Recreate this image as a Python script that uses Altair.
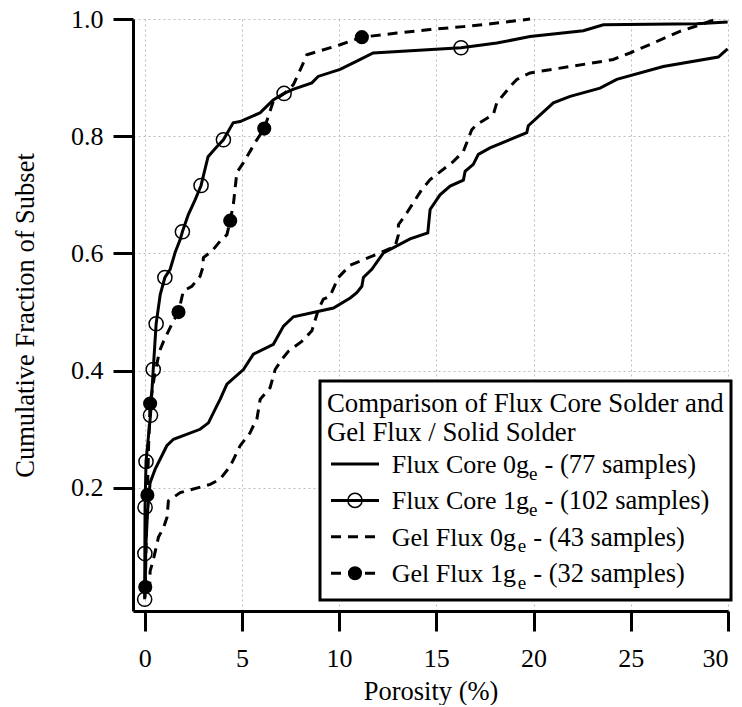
import altair as alt
import pandas as pd

# ---------------- data ----------------
# Flux Core 0g_e (77 samples) - solid line
fc0_x = [0.02, 0.06, 0.15, 0.28, 0.54, 1.14, 1.48, 2.85, 3.28, 3.71, 3.88, 4.23, 5.08, 5.59, 6.62, 7.14,
         7.65, 9.71, 10.57, 10.91, 11.17, 11.25, 11.68, 12.28, 13.65, 14.56, 14.68, 15.19, 15.71, 16.39,
         16.48, 16.90, 17.16, 17.76, 19.65, 19.73, 21.02, 21.88, 23.42, 24.28, 26.67, 29.50, 29.98]
fc0_y = [0.013, 0.10, 0.16, 0.209, 0.232, 0.272, 0.283, 0.300, 0.311, 0.340, 0.351, 0.377, 0.402, 0.428,
         0.445, 0.476, 0.492, 0.507, 0.524, 0.533, 0.544, 0.559, 0.573, 0.601, 0.625, 0.635, 0.675, 0.700,
         0.715, 0.725, 0.740, 0.752, 0.769, 0.780, 0.806, 0.818, 0.857, 0.868, 0.882, 0.897, 0.919, 0.935,
         0.949]

# Flux Core 1g_e (102 samples) - solid line with open circles
fc1_x = [0.00, 0.01, 0.02, 0.07, 0.30, 0.44, 0.59, 0.80, 1.04, 1.31, 1.57, 1.83, 1.94, 2.24, 2.60, 2.90,
         3.01, 3.26, 3.71, 4.05, 4.55, 4.91, 5.94, 6.09, 6.61, 7.17, 7.63, 8.60, 8.92, 10.05, 10.91, 11.75,
         16.27, 18.11, 19.82, 22.56, 23.59, 28.39, 29.98]
fc1_y = [0.010, 0.088, 0.167, 0.245, 0.324, 0.402, 0.480, 0.530, 0.559, 0.573, 0.602, 0.624, 0.637,
         0.666, 0.692, 0.716, 0.731, 0.765, 0.782, 0.794, 0.823, 0.825, 0.840, 0.845, 0.862, 0.873, 0.880,
         0.891, 0.902, 0.914, 0.928, 0.942, 0.951, 0.959, 0.970, 0.980, 0.990, 0.992, 0.995]
fc1_mx = [0.00, 0.01, 0.02, 0.07, 0.30, 0.44, 0.59, 1.04, 1.94, 2.90, 4.05, 7.17, 16.27]
fc1_my = [0.010, 0.088, 0.167, 0.245, 0.324, 0.402, 0.480, 0.559, 0.637, 0.716, 0.794, 0.873, 0.951]

# Gel Flux 0g_e (43 samples) - dashed line
gf0_x = [0.25, 0.28, 0.45, 0.71, 0.97, 1.15, 1.22, 1.83, 3.37, 3.88, 4.40, 4.91, 5.42, 5.59, 5.77, 5.94,
         6.45, 6.71, 7.05, 7.39, 8.08, 8.60, 8.94, 9.19, 9.53, 9.96, 10.57, 12.11, 12.88, 13.05, 13.05,
         13.48, 14.25, 14.68, 15.88, 16.39, 16.82, 17.08, 17.93, 18.11, 18.88, 19.14, 19.82, 23.59, 24.10,
         24.96, 26.16, 27.53, 28.56, 28.90, 29.42]
gf0_y = [0.023, 0.058, 0.078, 0.116, 0.132, 0.150, 0.178, 0.192, 0.206, 0.215, 0.237, 0.272, 0.294,
         0.306, 0.317, 0.351, 0.371, 0.402, 0.419, 0.433, 0.450, 0.468, 0.505, 0.522, 0.527, 0.559, 0.580,
         0.601, 0.612, 0.632, 0.649, 0.669, 0.709, 0.726, 0.757, 0.774, 0.811, 0.820, 0.837, 0.857, 0.888,
         0.897, 0.908, 0.928, 0.931, 0.942, 0.959, 0.979, 0.990, 0.994, 1.0]

# Gel Flux 1g_e (32 samples) - dashed line with filled circles
gf1_x = [0.03, 0.08, 0.14, 0.20, 0.28, 0.50, 0.76, 0.97, 1.48, 1.74, 1.99, 2.43, 2.85, 2.99, 3.02, 3.46,
         3.88, 4.23, 4.40, 4.57, 4.74, 5.08, 5.77, 6.15, 6.62, 7.22, 7.65, 8.08, 8.34, 8.94, 10.05, 11.17,
         12.97, 14.68, 16.39, 18.11, 19.82]
gf1_y = [0.031, 0.11, 0.188, 0.27, 0.344, 0.39, 0.433, 0.450, 0.485, 0.500, 0.536, 0.544, 0.561, 0.576,
         0.593, 0.604, 0.621, 0.632, 0.656, 0.686, 0.738, 0.755, 0.794, 0.813, 0.860, 0.874, 0.888, 0.919,
         0.939, 0.945, 0.956, 0.969, 0.976, 0.982, 0.987, 0.993, 1.0]
gf1_mx = [0.03, 0.14, 0.28, 1.74, 4.40, 6.15, 11.17]
gf1_my = [0.031, 0.188, 0.344, 0.500, 0.656, 0.813, 0.969]

x_ticks = [0, 5, 10, 15, 20, 25, 30]
y_ticks = [0.2, 0.4, 0.6, 0.8, 1.0]

legend_title = ["Comparison of Flux Core Solder and", "Gel Flux / Solid Solder"]
legend_main = ["Flux Core 0g", "Flux Core 1g", "Gel Flux 0g", "Gel Flux 1g"]
legend_rest = ["- (77 samples)", "- (102 samples)", "- (43 samples)", "- (32 samples)"]

# ---------------- build ----------------
def frame(name, xs, ys):
    return pd.DataFrame({"s": name, "x": xs, "y": ys, "i": list(range(len(xs)))})

data = pd.concat([
    frame("fc0", fc0_x, fc0_y), frame("fc1", fc1_x, fc1_y),
    frame("gf0", gf0_x, gf0_y), frame("gf1", gf1_x, gf1_y),
    frame("fc1m", fc1_mx, fc1_my), frame("gf1m", gf1_mx, gf1_my),
], ignore_index=True)

FONT = "Liberation Serif, Times New Roman, serif"
xscale = alt.Scale(domain=[-0.6, 30], nice=False, zero=False)
yscale = alt.Scale(domain=[-0.01, 1.0], nice=False, zero=False)

xaxis = alt.Axis(values=x_ticks, format="d", title="Porosity (%)",
                 titleY=88, titleBaseline="alphabetic", labelPadding=14)
yaxis = alt.Axis(values=y_ticks, format=".1f", title="Cumulative Fraction of Subset",
                 titleX=-100, titleY=296, titleAngle=270, titleBaseline="alphabetic",
                 titleAlign="center", labelPadding=10)

base = alt.Chart(data).encode(
    x=alt.X("x:Q", scale=xscale, axis=xaxis),
    y=alt.Y("y:Q", scale=yscale, axis=yaxis),
    order="i:Q",
)

LW = 3
DASH = [10, 7]
lines = [
    base.transform_filter(alt.datum.s == "fc0").mark_line(color="black", strokeWidth=LW),
    base.transform_filter(alt.datum.s == "fc1").mark_line(color="black", strokeWidth=LW),
    base.transform_filter(alt.datum.s == "gf0").mark_line(color="black", strokeWidth=LW, strokeDash=DASH),
    base.transform_filter(alt.datum.s == "gf1").mark_line(color="black", strokeWidth=LW, strokeDash=DASH),
    base.transform_filter(alt.datum.s == "fc1m").mark_point(shape="circle", size=200, filled=False,
                                                            color="black", strokeWidth=1.5, opacity=1),
    base.transform_filter(alt.datum.s == "gf1m").mark_point(shape="circle", size=200, filled=True,
                                                            color="black", opacity=1),
]

one = pd.DataFrame({"a": [0]})
legend_layers = [
    alt.Chart(one).mark_rect(fill="white", stroke="black", strokeWidth=3).encode(
        x=alt.value(187), x2=alt.value(598), y=alt.value(362), y2=alt.value(581)),
]
for k, t in enumerate(legend_title):
    legend_layers.append(alt.Chart(one).mark_text(align="left", baseline="alphabetic", font=FONT,
                                                  fontSize=26.8, color="black").encode(
        x=alt.value(194), y=alt.value(393 + 29 * k), text=alt.value(t)))

main_w = [137.3, 137.3, 126.0, 126.0]
for k in range(4):
    cy = 445 + 36.4 * k
    dash = DASH if k >= 2 else [1, 0]
    legend_layers.append(alt.Chart(one).mark_rule(color="black", strokeWidth=LW, strokeDash=dash).encode(
        x=alt.value(198), x2=alt.value(246), y=alt.value(cy)))
    if k == 1:
        legend_layers.append(alt.Chart(one).mark_point(shape="circle", size=200, filled=False, color="black",
                                                       strokeWidth=1.5, opacity=1).encode(
            x=alt.value(222), y=alt.value(cy)))
    if k == 3:
        legend_layers.append(alt.Chart(one).mark_point(shape="circle", size=200, filled=True, color="black",
                                                       opacity=1).encode(
            x=alt.value(222), y=alt.value(cy)))
    tx = 258.7
    legend_layers.append(alt.Chart(one).mark_text(align="left", baseline="alphabetic", font=FONT,
                                                  fontSize=26, color="black").encode(
        x=alt.value(tx), y=alt.value(cy + 8.7), text=alt.value(legend_main[k])))
    legend_layers.append(alt.Chart(one).mark_text(align="left", baseline="alphabetic", font=FONT,
                                                  fontSize=19, color="black").encode(
        x=alt.value(tx + main_w[k]), y=alt.value(cy + 15.5), text=alt.value("e")))
    legend_layers.append(alt.Chart(one).mark_text(align="left", baseline="alphabetic", font=FONT,
                                                  fontSize=26.5, color="black").encode(
        x=alt.value(tx + main_w[k] + 15.5), y=alt.value(cy + 8.7), text=alt.value(legend_rest[k])))

chart = alt.layer(*lines, *legend_layers).properties(
    width=595, height=592,
    background="white",
    autosize=alt.AutoSizeParams(type="none"),
    padding={"left": 125, "top": 11, "right": 6, "bottom": 94},
).configure_view(stroke=None).configure_axis(
    domainColor="black", domainWidth=3, tickColor="black", tickWidth=3, tickSize=20,
    labelFont=FONT, labelFontSize=26, labelColor="black",
    titleFont=FONT, titleFontSize=26.5, titleFontWeight="normal", titleColor="black",
    grid=True, gridColor="#bdbdbd", gridDash=[2, 3], gridWidth=1,
)

chart.save("out.html", embed_options={"renderer": "svg", "actions": False})
